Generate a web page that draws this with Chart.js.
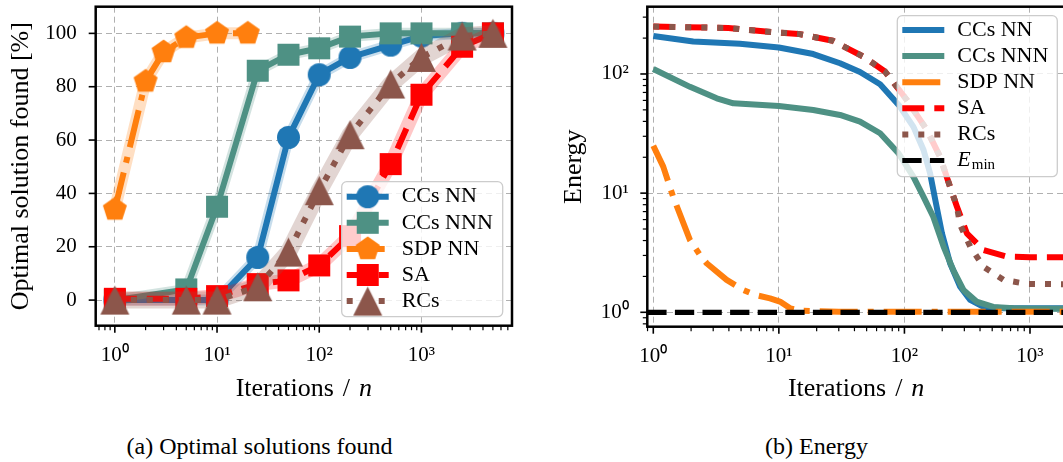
<!DOCTYPE html>
<html><head><meta charset="utf-8">
<script src="https://cdn.jsdelivr.net/npm/chart.js@4.4.1/dist/chart.umd.min.js"></script>
<style>
html,body{margin:0;padding:0;background:#fff;}
body{width:1063px;height:462px;overflow:hidden;position:relative;}
.cap{position:absolute;top:434px;font-family:"Liberation Serif",serif;font-size:24px;line-height:24px;white-space:nowrap;transform:translateX(-50%);color:#000;}
</style></head><body>
<canvas id="ca" width="530" height="410" style="position:absolute;left:0;top:0"></canvas>
<canvas id="cb" width="545" height="410" style="position:absolute;left:530px;top:0"></canvas>
<div class="cap" style="left:259.5px">(a) Optimal solutions found</div>
<div class="cap" style="left:816.5px">(b) Energy</div>
<script>
// ---------- data: (a) optimal solutions found [%] ----------
const iterations    = [1, 5, 10, 25, 50, 100, 200, 500, 1000, 2500, 5000];
const iterationsSDP = [1, 2, 3, 5, 10, 20];
const foundCCsNN  = [0, 0, 0, 16, 61, 84.5, 91, 95.6, 99, 100, 100];
const foundCCsNNN = [0, 4, 35, 86, 92, 94.4, 98.8, 100, 100, 100, 100];
const foundSDPNN  = [34, 82, 93, 98.4, 100, 100];
const foundSA     = [0.5, 0.5, 1.5, 6, 7.4, 13, 24, 51, 77, 95, 100];
const foundRCs    = [0, 0, 0, 5, 18, 41, 62, 81, 91, 99, 100];

// ---------- data: (b) energy ----------
const iterECCsNN  = [1, 2.08, 4.9, 10, 18.8, 30.7, 44.3, 64, 90, 118, 142, 160, 176, 199, 231, 278, 334, 426, 615, 1000, 2000];
const energyCCsNN = [208, 187, 179, 167, 147, 123, 104, 82, 55, 36, 23, 14.7, 8.8, 4.6, 2.58, 1.64, 1.27, 1.11, 1.08, 1.08, 1.08];
const iterECCsNNN  = [1, 1.96, 3.2, 4.34, 10, 18.8, 30.7, 44.3, 64, 90, 118, 142, 170, 205, 245, 295, 375, 510, 740, 1000, 2000];
const energyCCsNNN = [110, 78, 62.5, 56.8, 53.9, 49.9, 45.3, 39.8, 31.8, 21.5, 13.7, 9.3, 6.3, 3.56, 2.26, 1.54, 1.23, 1.11, 1.08, 1.07, 1.07];
const iterESDPNN  = [1, 1.2, 1.44, 1.96, 2.35, 2.66, 3.84, 5.2, 6.45, 8.5, 10.2, 12.3, 15, 30, 2000];
const energySDPNN = [25, 16.7, 9.3, 4.04, 3.03, 2.58, 1.87, 1.54, 1.40, 1.31, 1.23, 1.08, 1.03, 1.01, 1.01];
const iterESA  = [1, 3.96, 7.5, 14.3, 26.9, 47, 70, 104.5, 151, 192, 231, 262, 314, 426, 655, 1000, 2000];
const energySA = [250, 243, 228, 217, 190, 140, 105, 60.5, 33.9, 20.2, 11.3, 7.7, 4.6, 3.33, 2.93, 2.9, 2.9];
const iterERCs  = [1, 3.96, 7.5, 14.3, 26.9, 47, 70, 104.5, 151, 192, 231, 262, 278, 334, 426, 615, 945, 2000];
const energyRCs = [250, 243, 228, 217, 190, 140, 105, 60.5, 33.9, 20.2, 11.3, 7.7, 5.4, 3.56, 2.41, 1.87, 1.73, 1.72];
const energyMin = 1;

// ---------- labels & ticks ----------
const seriesNames = ['CCs NN', 'CCs NNN', 'SDP NN', 'SA', 'RCs'];
const xTickValues = [1, 10, 100, 1000];
const xTickLabels = ['10⁰', '10¹', '10²', '10³'];
const yTickValuesA = [0, 20, 40, 60, 80, 100];
const yTickValuesB = [1, 10, 100];
const yTickLabelsB = ['10⁰', '10¹', '10²'];

// ---------- styles ----------
const colors = ['#1f77b4', '#4e9184', '#ff7f0e', '#ff0000', '#8c564b'];
const bands  = ['rgba(31,119,180,0.25)', 'rgba(78,145,132,0.25)', 'rgba(255,127,14,0.25)', 'rgba(255,0,0,0.22)', 'rgba(140,86,75,0.25)'];
const bandWidths = [11, 11, 12, 14, 17];
const dashes = [[], [], [38, 10, 6, 10], [22, 10], [6, 10]];
const markerShapes = ['circle', 'square', 'pentagon', 'square', 'triangle'];
const markerSizes = [23, 22, 24, 22, 29];
const FONT = '"Liberation Serif", "Times New Roman", serif';

const xMinA = 0.65, xMaxA = 7690, yMinA = -9.6, yMaxA = 110;
const xMinB = 0.896, xMaxB = 1900, yMinB = 0.757, yMaxB = 367;

function makeMarker(shape, color, size) {
  const s = Math.ceil(size + 4);
  const c = document.createElement('canvas');
  c.width = s; c.height = s;
  const g = c.getContext('2d');
  const cx = s / 2, cy = s / 2;
  g.fillStyle = color;
  g.beginPath();
  if (shape === 'circle') {
    g.arc(cx, cy, size / 2, 0, Math.PI * 2);
  } else if (shape === 'square') {
    g.rect(cx - size / 2, cy - size / 2, size, size);
  } else if (shape === 'pentagon') {
    const r = size / 1.902;
    for (let k = 0; k < 5; k++) {
      const a = -Math.PI / 2 + k * 2 * Math.PI / 5;
      const px = cx + r * Math.cos(a), py = cy + r * Math.sin(a);
      if (k === 0) g.moveTo(px, py); else g.lineTo(px, py);
    }
  } else if (shape === 'triangle') {
    g.moveTo(cx, cy - size / 2);
    g.lineTo(cx - size / 2, cy + size / 2);
    g.lineTo(cx + size / 2, cy + size / 2);
  }
  g.closePath();
  g.fill();
  return c;
}
const markers = markerShapes.map((m, i) => makeMarker(m, colors[i], markerSizes[i]));

const pts = (xs, ys) => xs.map((x, i) => ({x: x, y: ys[i]}));

function minorLogTicks(min, max) {
  const out = [];
  for (let e = -2; e <= 5; e++) for (let k = 2; k <= 9; k++) {
    const v = k * Math.pow(10, e);
    if (v >= min && v <= max) out.push(v);
  }
  return out;
}

function drawTicks(chart, scale, majors, minors, side) {
  const ctx = chart.ctx, ca = chart.chartArea;
  ctx.save();
  ctx.strokeStyle = '#000';
  [[majors, 7, 1.6], [minors, 4.5, 1.2]].forEach(([vals, len, w]) => {
    ctx.lineWidth = w;
    vals.forEach(v => {
      if (v < scale.min || v > scale.max) return;
      const p = scale.getPixelForValue(v);
      ctx.beginPath();
      if (side === 'bottom') { ctx.moveTo(p, ca.bottom); ctx.lineTo(p, ca.bottom + len); }
      else { ctx.moveTo(ca.left, p); ctx.lineTo(ca.left - len, p); }
      ctx.stroke();
    });
  });
  ctx.restore();
}

function drawXTitle(chart, baseline) {
  const ctx = chart.ctx, ca = chart.chartArea;
  ctx.save();
  ctx.fillStyle = '#000';
  ctx.textBaseline = 'alphabetic';
  ctx.textAlign = 'left';
  const fN = '26px ' + FONT, fI = 'italic 26px ' + FONT;
  ctx.font = fN;
  const w1 = ctx.measureText('Iterations').width;
  const w2 = ctx.measureText('/').width;
  ctx.font = fI;
  const w3 = ctx.measureText('n').width;
  const gap = 9;
  const total = w1 + gap + w2 + gap + w3;
  let x = (ca.left + ca.right) / 2 - total / 2;
  ctx.font = fN;
  ctx.fillText('Iterations', x, baseline); x += w1 + gap;
  ctx.fillText('/', x, baseline); x += w2 + gap;
  ctx.font = fI;
  ctx.fillText('n', x, baseline);
  ctx.restore();
}

function roundRect(ctx, x, y, w, h, r) {
  ctx.beginPath();
  ctx.moveTo(x + r, y);
  ctx.lineTo(x + w - r, y); ctx.arcTo(x + w, y, x + w, y + r, r);
  ctx.lineTo(x + w, y + h - r); ctx.arcTo(x + w, y + h, x + w - r, y + h, r);
  ctx.lineTo(x + r, y + h); ctx.arcTo(x, y + h, x, y + h - r, r);
  ctx.lineTo(x, y + r); ctx.arcTo(x, y, x + r, y, r);
  ctx.closePath();
}

function drawLegend(chart, items, box) {
  const ctx = chart.ctx;
  ctx.save();
  roundRect(ctx, box.x, box.y, box.w, box.h, 5);
  ctx.fillStyle = 'rgba(255,255,255,0.8)';
  ctx.fill();
  ctx.strokeStyle = '#cccccc';
  ctx.lineWidth = 1.3;
  ctx.stroke();
  items.forEach((it, i) => {
    const cy = box.y + box.first + i * box.step;
    const x0 = box.x + 5, x1 = box.x + 47;
    ctx.save();
    ctx.strokeStyle = it.color;
    ctx.lineWidth = it.lw;
    ctx.lineCap = 'butt';
    ctx.setLineDash(it.dash);
    ctx.beginPath(); ctx.moveTo(x0, cy); ctx.lineTo(x1, cy); ctx.stroke();
    ctx.restore();
    if (it.marker) ctx.drawImage(it.marker, (x0 + x1) / 2 - it.marker.width / 2, cy - it.marker.height / 2);
    ctx.fillStyle = '#000';
    ctx.textBaseline = 'middle';
    ctx.textAlign = 'left';
    const tx = box.x + 60;
    if (it.label === 'E_min') {
      ctx.font = 'italic 22px ' + FONT;
      ctx.fillText('E', tx, cy);
      const we = ctx.measureText('E').width;
      ctx.font = '15px ' + FONT;
      ctx.fillText('min', tx + we + 1, cy + 5);
    } else {
      ctx.font = '22px ' + FONT;
      ctx.fillText(it.label, tx, cy);
    }
  });
  ctx.restore();
}

Chart.defaults.font.family = FONT;
Chart.defaults.color = '#000';

const fitX = h => s => { s.height = h; s.paddingLeft = 0; s.paddingRight = 0; s.paddingTop = 0; s.paddingBottom = 0; };
const fitY = w => s => { s.width = w; s.paddingLeft = 0; s.paddingRight = 0; s.paddingTop = 0; s.paddingBottom = 0; };

// ---------------- chart (a) ----------------
const dataA = [
  {xs: iterations, ys: foundCCsNN},
  {xs: iterations, ys: foundCCsNNN},
  {xs: iterationsSDP, ys: foundSDPNN},
  {xs: iterations, ys: foundSA},
  {xs: iterations, ys: foundRCs}
];
const datasetsA = [];
dataA.forEach((d, i) => {
  datasetsA.push({
    label: seriesNames[i] + ' band',
    data: pts(d.xs, d.ys),
    borderColor: bands[i], borderWidth: bandWidths[i],
    borderJoinStyle: 'round', borderCapStyle: 'round',
    pointRadius: 0, order: 100 - 2 * i
  });
  datasetsA.push({
    label: seriesNames[i],
    data: pts(d.xs, d.ys),
    borderColor: colors[i], backgroundColor: colors[i], borderWidth: 6,
    borderDash: dashes[i], borderJoinStyle: 'round',
    pointStyle: markers[i], pointRadius: 8, pointBorderWidth: 0,
    order: 99 - 2 * i
  });
});

const legendA = seriesNames.map((n, i) => ({label: n, color: colors[i], lw: 6, dash: dashes[i], marker: markers[i]}));

new Chart(document.getElementById('ca'), {
  type: 'line',
  data: {datasets: datasetsA},
  options: {
    responsive: false, animation: false, events: [],
    layout: {autoPadding: false, padding: {left: 0, top: 6.7, right: 18, bottom: 0}},
    plugins: {legend: {display: false}, tooltip: {enabled: false}},
    scales: {
      x: {
        type: 'logarithmic', min: xMinA, max: xMaxA,
        afterBuildTicks: s => { s.ticks = xTickValues.map(v => ({value: v})); },
        afterFit: fitX(84.3),
        ticks: {autoSkip: false, maxRotation: 0, padding: 17.5, font: {size: 21},
          callback: v => { const k = xTickValues.indexOf(v); return k >= 0 ? xTickLabels[k] : ''; }},
        grid: {color: '#b0b0b0', lineWidth: 1, drawTicks: false},
        border: {display: false, dash: [6, 4]}
      },
      y: {
        type: 'linear', min: yMinA, max: yMaxA,
        afterBuildTicks: s => { s.ticks = yTickValuesA.map(v => ({value: v})); },
        afterFit: fitY(95.7),
        ticks: {autoSkip: false, padding: 19, font: {size: 21}},
        grid: {color: '#b0b0b0', lineWidth: 1, drawTicks: false},
        border: {display: false, dash: [6, 4]},
        title: {display: true, text: 'Optimal solution found [%]', font: {size: 26}, padding: {top: 5.4, bottom: 0}}
      }
    }
  },
  plugins: [{
    id: 'decorA',
    afterDraw(chart) {
      const ca = chart.chartArea, ctx = chart.ctx;
      drawTicks(chart, chart.scales.x, xTickValues, minorLogTicks(xMinA, xMaxA), 'bottom');
      drawTicks(chart, chart.scales.y, yTickValuesA, [], 'left');
      ctx.save(); ctx.strokeStyle = '#000'; ctx.lineWidth = 2.5;
      ctx.strokeRect(ca.left, ca.top, ca.right - ca.left, ca.bottom - ca.top); ctx.restore();
      drawXTitle(chart, 396);
      drawLegend(chart, legendA, {x: ca.right - 9.3 - 161, y: ca.bottom - 9 - 135, w: 161, h: 135, first: 15, step: 26.1});
    }
  }]
});

// ---------------- chart (b) ----------------
const dataB = [
  {xs: iterECCsNN, ys: energyCCsNN},
  {xs: iterECCsNNN, ys: energyCCsNNN},
  {xs: iterESDPNN, ys: energySDPNN},
  {xs: iterESA, ys: energySA},
  {xs: iterERCs, ys: energyRCs}
];
const datasetsB = dataB.map((d, i) => ({
  label: seriesNames[i],
  data: pts(d.xs, d.ys),
  borderColor: colors[i], borderWidth: 6, borderDash: dashes[i],
  borderJoinStyle: 'round', pointRadius: 0, order: 50 - i
}));
datasetsB.push({
  label: 'E_min',
  data: [{x: xMinB, y: energyMin}, {x: xMaxB, y: energyMin}],
  borderColor: '#000', borderWidth: 5.2, borderDash: [19.3, 8.3],
  pointRadius: 0, order: 1, clip: 0
});
const legendB = seriesNames.map((n, i) => ({label: n, color: colors[i], lw: 6, dash: dashes[i], marker: null}));
legendB.push({label: 'E_min', color: '#000', lw: 5.2, dash: [19.3, 8.3], marker: null});

new Chart(document.getElementById('cb'), {
  type: 'line',
  data: {datasets: datasetsB},
  options: {
    responsive: false, animation: false, events: [],
    layout: {autoPadding: false, padding: {left: 0, top: 6.7, right: 10, bottom: 0}},
    plugins: {legend: {display: false}, tooltip: {enabled: false}},
    scales: {
      x: {
        type: 'logarithmic', min: xMinB, max: xMaxB,
        afterBuildTicks: s => { s.ticks = xTickValues.map(v => ({value: v})); },
        afterFit: fitX(83.3),
        ticks: {autoSkip: false, maxRotation: 0, padding: 17.5, font: {size: 21},
          callback: v => { const k = xTickValues.indexOf(v); return k >= 0 ? xTickLabels[k] : ''; }},
        grid: {color: '#b0b0b0', lineWidth: 1, drawTicks: false},
        border: {display: false, dash: [6, 4]}
      },
      y: {
        type: 'logarithmic', min: yMinB, max: yMaxB,
        afterBuildTicks: s => { s.ticks = yTickValuesB.map(v => ({value: v})); },
        afterFit: fitY(117.3),
        ticks: {autoSkip: false, padding: 18.5, font: {size: 21},
          callback: v => { const k = yTickValuesB.indexOf(v); return k >= 0 ? yTickLabelsB[k] : ''; }},
        grid: {color: '#b0b0b0', lineWidth: 1, drawTicks: false},
        border: {display: false, dash: [6, 4]},
        title: {display: true, text: 'Energy', font: {size: 26}, padding: {top: 28.4, bottom: 0}}
      }
    }
  },
  plugins: [{
    id: 'decorB',
    afterDraw(chart) {
      const ca = chart.chartArea, ctx = chart.ctx;
      drawTicks(chart, chart.scales.x, xTickValues, minorLogTicks(xMinB, xMaxB), 'bottom');
      drawTicks(chart, chart.scales.y, yTickValuesB, minorLogTicks(yMinB, yMaxB), 'left');
      ctx.save(); ctx.strokeStyle = '#000'; ctx.lineWidth = 2.5;
      ctx.strokeRect(ca.left, ca.top, ca.right - ca.left, ca.bottom - ca.top); ctx.restore();
      drawXTitle(chart, 396);
      drawLegend(chart, legendB, {x: ca.right - 7.7 - 160, y: ca.top + 9, w: 160, h: 161, first: 14.3, step: 26.1});
    }
  }]
});
</script>
</body></html>
